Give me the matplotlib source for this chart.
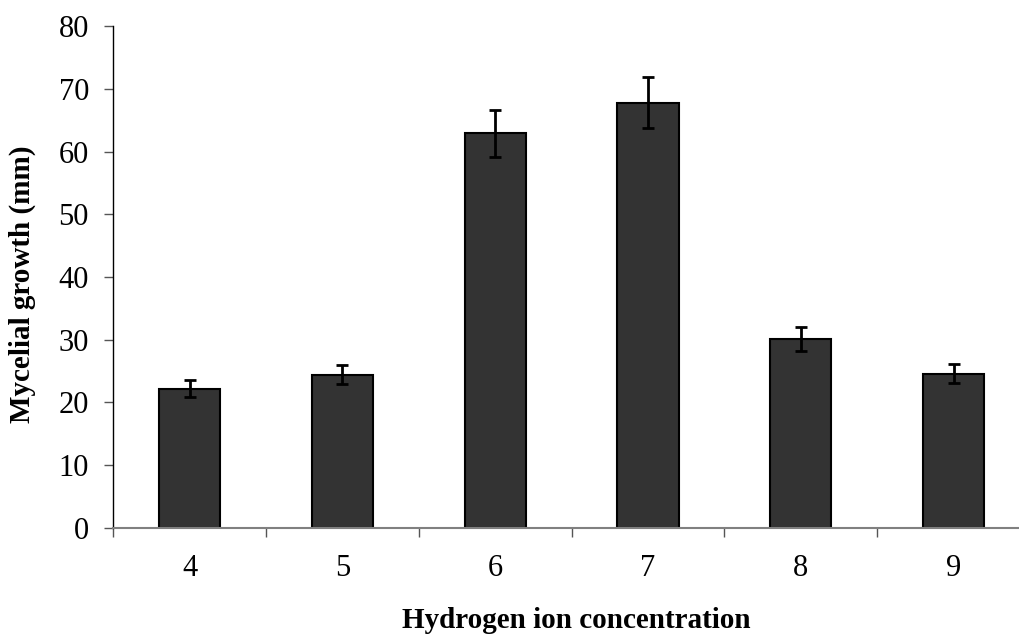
import matplotlib
matplotlib.use("Agg")
import matplotlib.pyplot as plt
import numpy as np

# pH levels and mean mycelial growth (mm) with error bars
ph_levels = ["4", "5", "6", "7", "8", "9"]
growth = [22.2, 24.4, 62.9, 67.8, 30.1, 24.6]
errors = [1.35, 1.5, 3.75, 4.1, 1.9, 1.55]

plt.rcParams["font.family"] = ["Liberation Serif", "DejaVu Serif"]

fig = plt.figure(figsize=(10.19, 6.35), dpi=100)
# axes run a little past the right edge, as in the cropped original
ax = fig.add_axes([113.3 / 1019, 1 - 527.7 / 635, (1030 - 113.3) / 1019, (527.7 - 26.3) / 635])

x = np.arange(len(ph_levels))
ax.bar(x, growth, width=0.4, color="#333333", edgecolor="black", linewidth=1.5, zorder=2)
ax.errorbar(x, growth, yerr=errors, fmt="none", ecolor="black", elinewidth=2,
            capsize=4.5, capthick=2, zorder=3)

ax.set_xlim(-0.5, len(ph_levels) - 0.5)
ax.set_ylim(0, 80)
ax.set_yticks(np.arange(0, 81, 10))
ax.tick_params(axis="y", direction="out", length=6.5, width=1, color="#555555",
               labelsize=22, pad=11)

ax.set_xticks(x)
ax.set_xticklabels(ph_levels)
ax.tick_params(axis="x", which="major", length=0, labelsize=22, pad=19)
ax.set_xticks(np.arange(-0.5, len(ph_levels), 1.0), minor=True)
ax.tick_params(axis="x", which="minor", direction="out", length=6.5, width=1, color="#555555")

for side in ["top", "right"]:
    ax.spines[side].set_visible(False)
ax.spines["left"].set_color("black")
ax.spines["left"].set_linewidth(1)
ax.spines["bottom"].set_color("#808080")
ax.spines["bottom"].set_linewidth(1.5)

fig.text(22 / 1019, 1 - 284 / 635, "Mycelial growth (mm)", rotation=90,
         ha="center", va="center", fontsize=21, fontweight="bold")
fig.text(576 / 1019, 1 - 621 / 635, "Hydrogen ion concentration",
         ha="center", va="center", fontsize=21, fontweight="bold")

fig.savefig("out.png", dpi=100)
